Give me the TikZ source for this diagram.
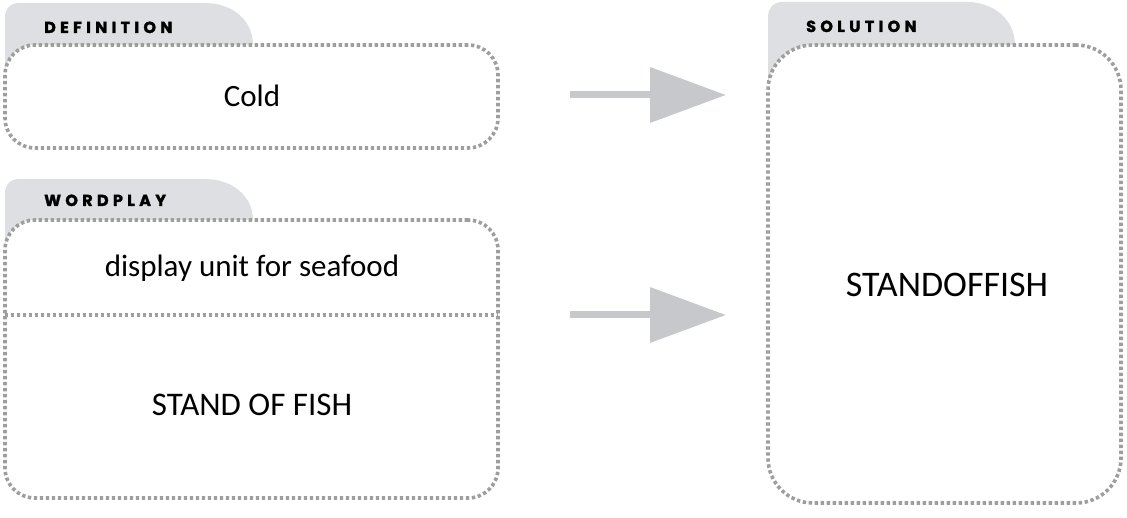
\documentclass[tikz,border=0pt]{standalone}
\usepackage{fontspec}
\setmainfont{Carlito}
\newfontfamily\hdrfont{Poppins}[LetterSpace=27, BoldFeatures={FakeBold=1.8}]
\usetikzlibrary{arrows.meta}
\definecolor{tabgray}{RGB}{221,223,226}
\definecolor{dotgray}{RGB}{158,158,158}
\definecolor{arrgray}{RGB}{199,200,203}
\tikzset{
  dotline/.style={draw=dotgray, line width=3.6pt, dash pattern=on 3.4pt off 2.6pt},
  dotbox/.style={dotline, fill=white, inner sep=0pt},
  hdr/.style={anchor=base west, font=\hdrfont\bfseries\fontsize{16}{18}\selectfont, inner sep=0pt},
  body/.style={font=\fontsize{31}{36}\selectfont, inner sep=0pt},
  bigarrow/.style={draw=arrgray, line width=7pt, -{Triangle[length=76pt,width=54pt]}}
}
\begin{document}
\begin{tikzpicture}[x=1pt,y=-1pt]
\useasboundingbox (0,0) rectangle (1127,518);
% tabs
\fill[tabgray] (5,80) -- (5,17) .. controls (5,9) and (10,3) .. (19,3) -- (205,3) .. controls (232,3) and (253,20) .. (253,45) -- (253,80) -- cycle;
\fill[tabgray] (5,255) -- (5,193) .. controls (5,185) and (10,179) .. (19,179) -- (205,179) .. controls (232,179) and (253,196) .. (253,220) -- (253,255) -- cycle;
\fill[tabgray] (768,95) -- (768,17) .. controls (768,9) and (773,2) .. (782,2) -- (967,2) .. controls (994,2) and (1015,20) .. (1015,45) -- (1015,95) -- cycle;
% headers
\node[hdr] (hdef) at (44,33) {DEFINITION};
\node[hdr] (hwp) at (44,206) {WORDPLAY};
\node[hdr] (hsol) at (806,32) {SOLUTION};
% boxes
\node[dotbox, rounded corners=30pt, minimum width=493pt, minimum height=103pt] (def) at (251.5,96.5) {};
\node[body] (cold) at (252,96) {Cold};
\node[dotbox, rounded corners=30pt, minimum width=493pt, minimum height=278pt] (wp) at (251.5,359) {};
\node[body] (disp) at (252,268) {display unit for seafood};
\node[body, font=\fontsize{33}{40}\selectfont] (sof) at (252,405) {STAND OF FISH};
\coordinate (divl) at (5,315);
\coordinate (divr) at (498,315);
\draw[dotline] (divl) -- (divr);
\node[dotbox, rounded corners=45pt, minimum width=353pt, minimum height=458pt] (sol) at (944.5,274) {};
\node[body, font=\fontsize{36}{42}\selectfont] (soltxt) at (947,285) {STANDOFFISH};
% arrows
\coordinate (a1s) at (570,95);
\coordinate (a1e) at (726,95);
\coordinate (a2s) at (570,315);
\coordinate (a2e) at (726,315);
\draw[bigarrow] (a1s) -- (a1e);
\draw[bigarrow] (a2s) -- (a2e);
\end{tikzpicture}
\end{document}
